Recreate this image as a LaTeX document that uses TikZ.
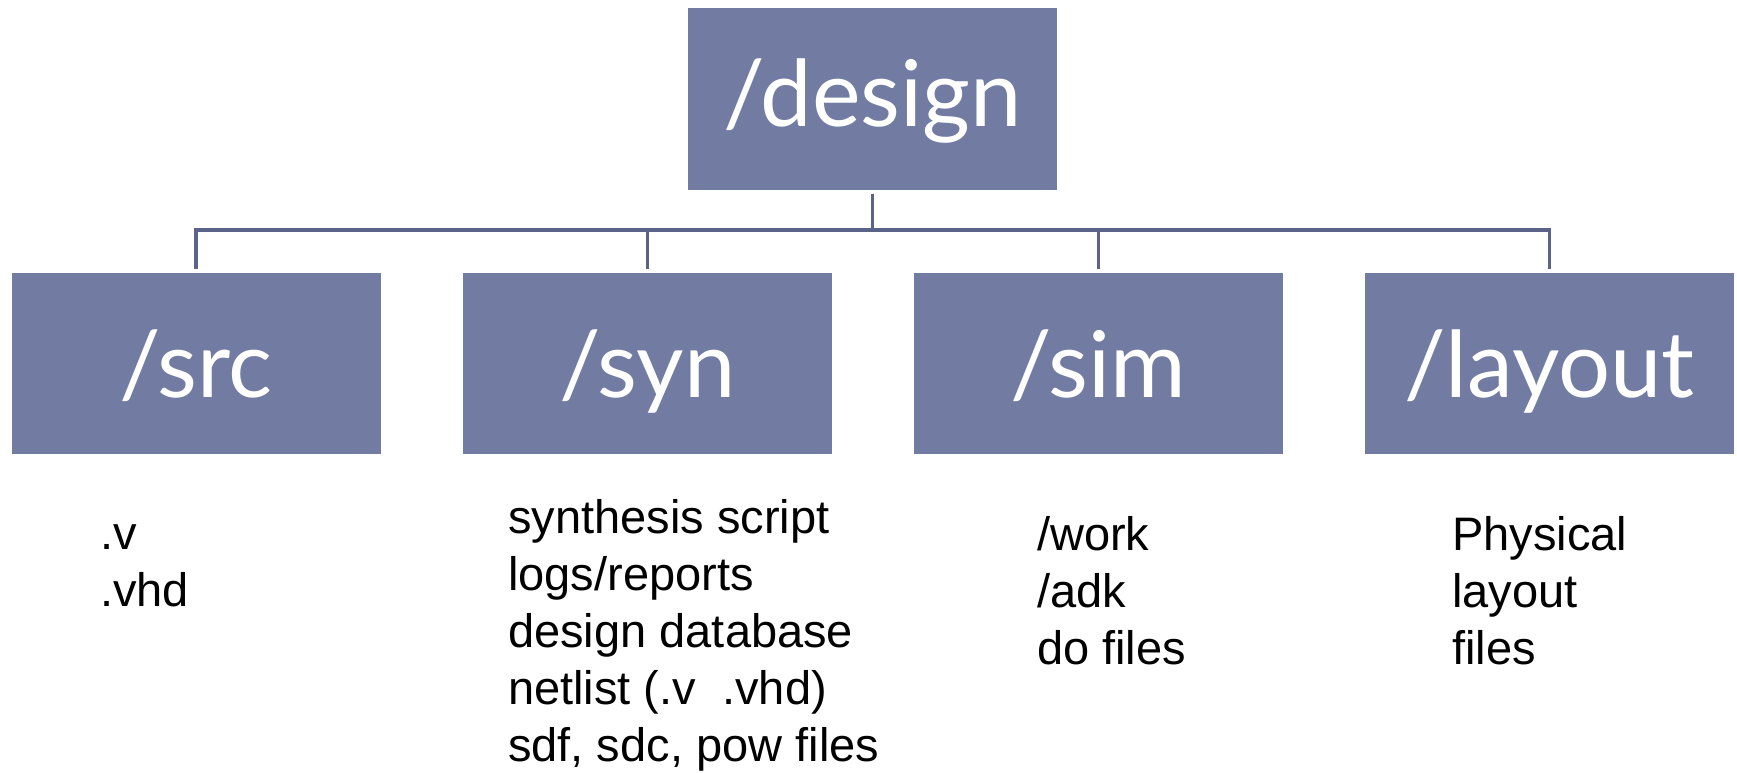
\documentclass[tikz,border=0pt]{standalone}
\usepackage{fontspec}
\setmainfont{Liberation Sans}
\newfontfamily\boxfont{Lato}
\definecolor{boxfill}{HTML}{727CA2}
\definecolor{linecol}{HTML}{5B6389}
\tikzset{
  dirbox/.style={fill=boxfill, draw=none, minimum width=369pt, minimum height=181pt, inner sep=0pt},
  dirlabel/.style={text=white, anchor=base, inner sep=0pt, font=\boxfont\fontsize{92}{100}\selectfont},
  conn/.style={draw=linecol, line width=3.5pt, shorten <=4pt, shorten >=4pt},
  filelist/.style={anchor=base west, align=left, inner sep=0pt, text=black, font=\fontsize{47}{57}\selectfont}
}
\begin{document}
\begin{tikzpicture}[x=1pt, y=-1pt]
\useasboundingbox (0,0) rectangle (1737,773);
% boxes
\node[dirbox] (design) at (872.5,99) {};
\node[dirbox] (src) at (196,363.5) {};
\node[dirbox] (syn) at (647.5,363.5) {};
\node[dirbox] (sim) at (1098.5,363.5) {};
\node[dirbox] (layout) at (1549.5,363.5) {};
% labels
\node[dirlabel] (designlbl) at (872.5,127) {/design};
\node[dirlabel] (srclbl) at (196,397) {/src};
\node[dirlabel] (synlbl) at (647.5,397) {/syn};
\node[dirlabel] (simlbl) at (1098.5,397) {/sim};
\node[dirlabel] (layoutlbl) at (1549.5,397) {/layout};
% connectors
\coordinate (bar) at (872.5,230);
\foreach \c in {src,syn,sim,layout}{
  \draw[conn] (design.south) -- (design.south |- bar) -| (\c.north);
}
% file lists (anchor = baseline of last line)
\node[filelist] (srcfiles) at (100,606) {.v\\.vhd};
\node[filelist] (synfiles) at (508,761) {synthesis script\\logs/reports\\design database\\netlist (.v\ \ .vhd)\\sdf, sdc, pow files};
\node[filelist] (simfiles) at (1037,664) {/work\\/adk\\do files};
\node[filelist] (layoutfiles) at (1452,664) {Physical\\layout\\files};
\end{tikzpicture}
\end{document}
